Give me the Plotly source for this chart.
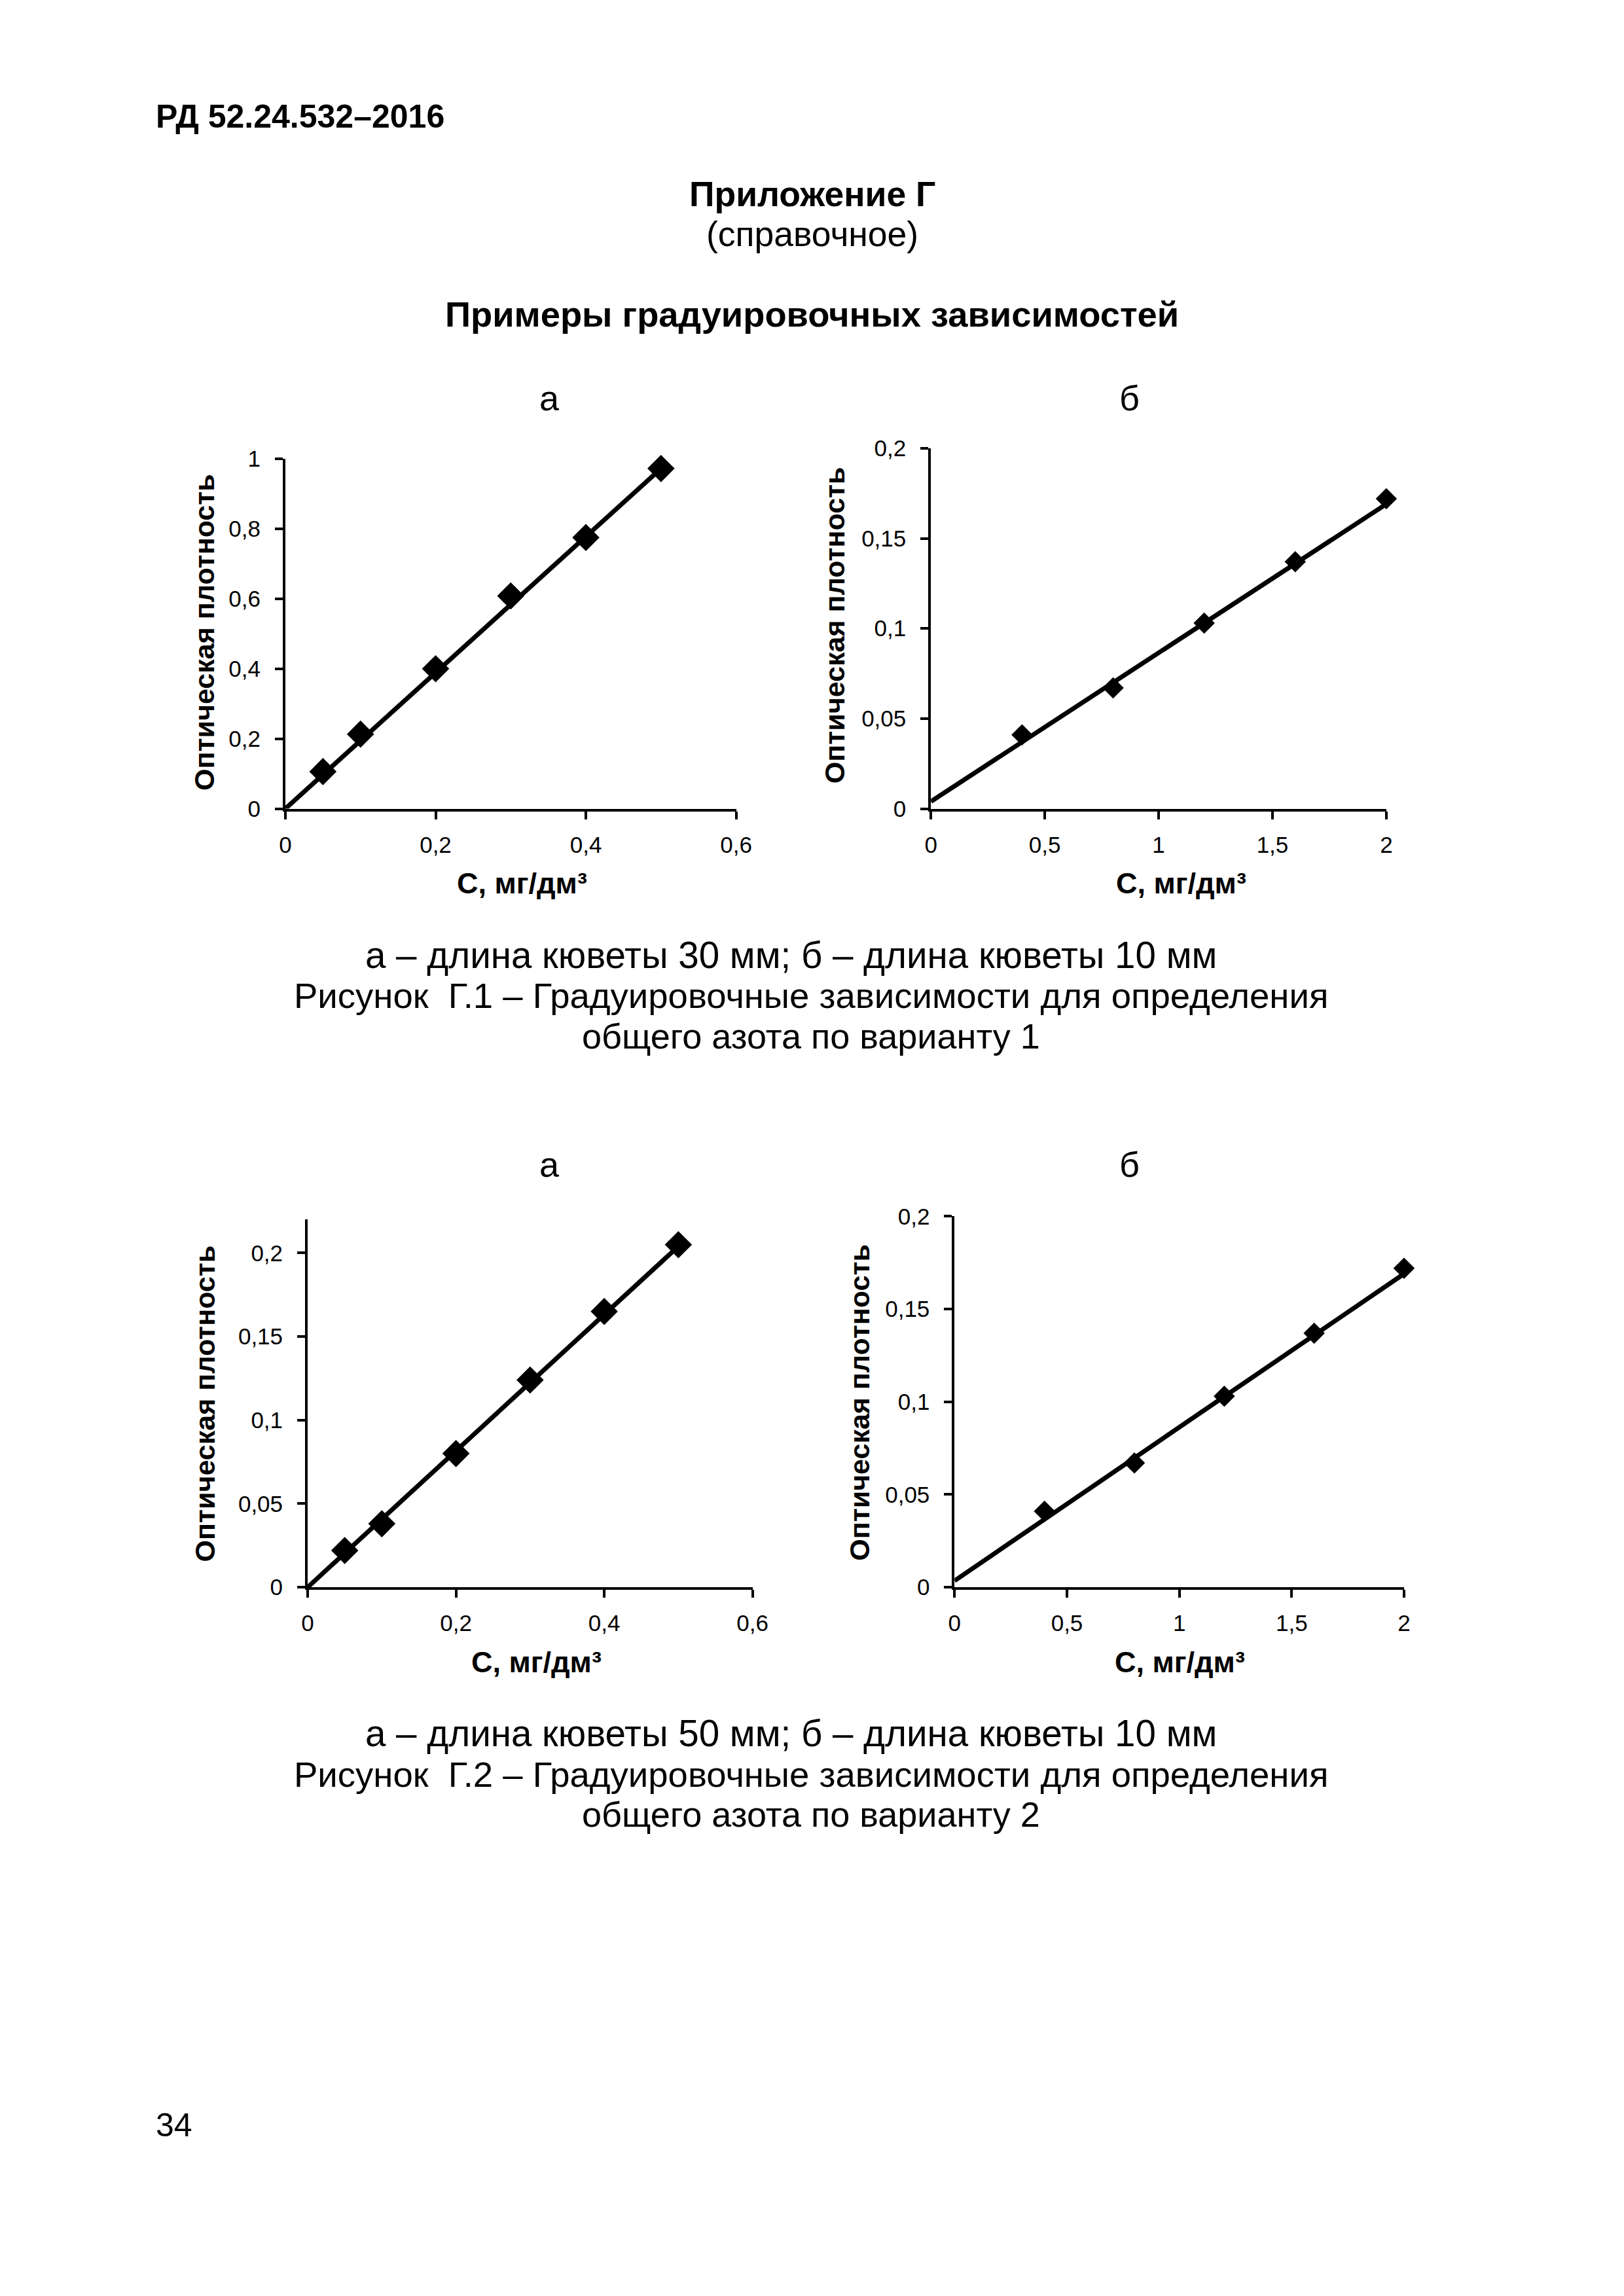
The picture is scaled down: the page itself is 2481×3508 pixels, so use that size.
import plotly.graph_objects as go

W, H = 2481, 3508

# ---- data ----
conc_a1 = [0.05, 0.1, 0.2, 0.3, 0.4, 0.5]
dens_a1 = [0.106, 0.213, 0.400, 0.608, 0.775, 0.972]
trend_a1_x = [0.0, 0.5]
trend_a1_y = [0.0, 0.972]

conc_b1 = [0.4, 0.8, 1.2, 1.6, 2.0]
dens_b1 = [0.041, 0.067, 0.103, 0.137, 0.172]
trend_b1_x = [0.0, 2.0]
trend_b1_y = [0.004, 0.169]

conc_a2 = [0.05, 0.1, 0.2, 0.3, 0.4, 0.5]
dens_a2 = [0.022, 0.038, 0.080, 0.124, 0.165, 0.205]
trend_a2_x = [0.0, 0.5]
trend_a2_y = [0.0, 0.204]

conc_b2 = [0.4, 0.8, 1.2, 1.6, 2.0]
dens_b2 = [0.041, 0.067, 0.103, 0.137, 0.172]
trend_b2_x = [0.0, 2.0]
trend_b2_y = [0.0035, 0.169]

FONT = "Liberation Sans, Arial, sans-serif"

# correction from intended page pixel to layout pixel (page offset / scaling seen in render)
OX, KX = 21.0, 0.984
OY, KY = 29.0, 0.9876


def px(x):
    return ((x - OX) / KX) / W


def py(y):
    return 1 - ((y - OY) / KY) / H


fig = go.Figure()

panels = [
    # (xs, ys, tx, ty, marker size, x-domain px, y-domain px (bottom, top), xrange, yrange, xdtick, ydtick)
    (conc_a1, dens_a1, trend_a1_x, trend_a1_y, 32, (438, 1125), (1235, 701), [0, 0.6], [0, 1.0], 0.2, 0.2),
    (conc_b1, dens_b1, trend_b1_x, trend_b1_y, 25, (1422, 2116), (1235, 685), [0, 2.0], [0, 0.2], 0.5, 0.05),
    (conc_a2, dens_a2, trend_a2_x, trend_a2_y, 32, (472, 1150), (2423, 1862), [0, 0.6], [0, 0.22], 0.2, 0.05),
    (conc_b2, dens_b2, trend_b2_x, trend_b2_y, 25, (1458, 2143), (2423, 1857), [0, 2.0], [0, 0.2], 0.5, 0.05),
]

for i, (xs, ys, tx, ty, ms, xd, yd, xr, yr, xdt, ydt) in enumerate(panels, start=1):
    xa = "x" if i == 1 else f"x{i}"
    ya = "y" if i == 1 else f"y{i}"
    fig.add_trace(go.Scatter(x=tx, y=ty, mode="lines", xaxis=xa, yaxis=ya,
                             line=dict(color="black", width=7), showlegend=False, cliponaxis=False))
    fig.add_trace(go.Scatter(x=xs, y=ys, mode="markers", xaxis=xa, yaxis=ya,
                             marker=dict(symbol="diamond", size=ms, color="black", line=dict(width=0)),
                             showlegend=False, cliponaxis=False))
    axis_common = dict(showline=True, linecolor="black", linewidth=4, ticks="outside",
                       ticklen=12, tickwidth=4, tickcolor="black", showgrid=False, zeroline=False,
                       tickfont=dict(family=FONT, size=35, color="black"), fixedrange=True)
    xkey = "xaxis" if i == 1 else f"xaxis{i}"
    ykey = "yaxis" if i == 1 else f"yaxis{i}"
    fig.update_layout(**{
        xkey: dict(domain=[px(xd[0]), px(xd[1])], range=xr, dtick=xdt, tick0=0,
                   anchor=ya, ticklabelstandoff=9, **axis_common),
        ykey: dict(domain=[py(yd[0]), py(yd[1])], range=yr, dtick=ydt, tick0=0,
                   anchor=xa, ticklabelstandoff=15, **axis_common),
    })

annotations = []


def text(x, y, s, size, bold=False, xanchor="center", angle=0):
    if bold:
        s = f"<b>{s}</b>"
    annotations.append(dict(x=px(x), y=py(y), xref="paper", yref="paper", text=s,
                            showarrow=False, xanchor=xanchor, yanchor="middle", textangle=angle,
                            borderpad=0, font=dict(family=FONT, size=size, color="black")))


# page text
text(239, 179, "РД 52.24.532–2016", 50, bold=True, xanchor="left")
text(1241, 297, "Приложение Г", 53.5, bold=True)
text(1241, 358, "(справочное)", 53.5)
text(1241, 481, "Примеры градуировочных зависимостей", 54.3, bold=True)

# panel labels
for (x, y, s) in [(841, 608, "а"), (1725, 608, "б"), (841, 1778, "а"), (1725, 1778, "б")]:
    text(x, y, s, 54)

# axis titles
for (x, y) in [(799, 1349), (1803, 1349), (821, 2537), (1801, 2537)]:
    text(x, y, "С, мг/дм³", 45, bold=True)
for (x, y) in [(315, 966), (1275, 955), (315, 2143), (1313, 2141)]:
    text(x, y, "Оптическая плотность", 43, bold=True, angle=-90)

# captions
text(1209, 1459, "а – длина кюветы 30 мм; б – длина кюветы 10 мм", 56.5)
text(1239, 1521, "Рисунок  Г.1 – Градуировочные зависимости для определения", 54.5)
text(1239, 1582, "общего азота по варианту 1", 54)
text(1209, 2646, "а – длина кюветы 50 мм; б – длина кюветы 10 мм", 56.5)
text(1239, 2709, "Рисунок  Г.2 – Градуировочные зависимости для определения", 54.5)
text(1239, 2769, "общего азота по варианту 2", 54)

text(239, 3244, "34", 50, xanchor="left")

fig.update_layout(width=W, height=H, margin=dict(l=0, r=0, t=0, b=0),
                  paper_bgcolor="white", plot_bgcolor="white",
                  separators=", ", annotations=annotations,
                  font=dict(family=FONT, color="black"))

fig.write_html("out.html", include_plotlyjs=True, config={"displayModeBar": False})
